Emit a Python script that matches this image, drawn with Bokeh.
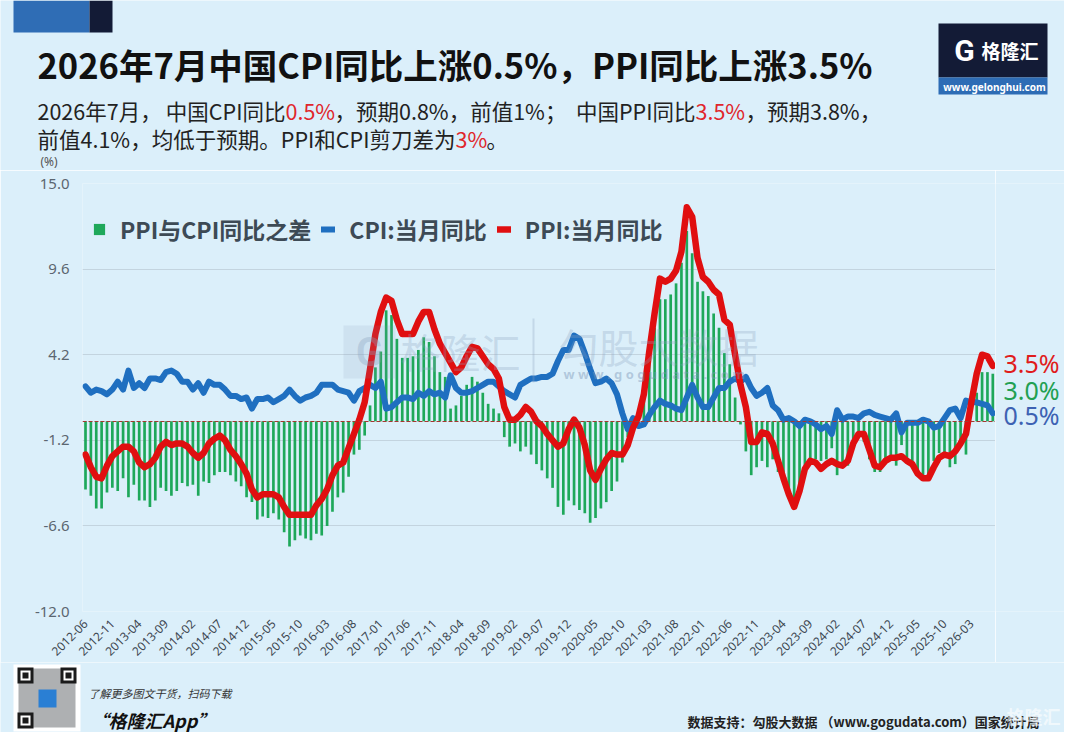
import math
from bokeh.plotting import figure
from bokeh.layouts import column, row
from bokeh.models import (Range1d, FixedTicker, PrintfTickFormatter, Label, BoxAnnotation,
                          Legend, LegendItem, Grid)
from bokeh.embed import file_html
from bokeh.resources import INLINE

# ---------------- data (monthly, 2012-06 .. 2026-07) ----------------
cpi = [
    2.2, 1.8, 2.0, 1.9, 1.7, 2.0, 2.5,
    2.0, 3.2, 2.1, 2.4, 2.1, 2.7, 2.7, 2.6, 3.1, 3.2, 3.0, 2.5,
    2.5, 2.0, 2.4, 1.8, 2.5, 2.3, 2.3, 2.0, 1.6, 1.6, 1.4, 1.5,
    0.8, 1.4, 1.4, 1.5, 1.2, 1.4, 1.6, 2.0, 1.6, 1.3, 1.5, 1.6,
    1.8, 2.3, 2.3, 2.3, 2.0, 1.9, 1.8, 1.3, 1.9, 2.1, 2.3, 2.1,
    2.5, 0.8, 0.9, 1.2, 1.5, 1.5, 1.4, 1.8, 1.6, 1.9, 1.7, 1.8,
    1.5, 2.9, 2.1, 1.8, 1.8, 1.9, 2.1, 2.3, 2.5, 2.5, 2.2, 1.9,
    1.7, 1.5, 2.3, 2.5, 2.7, 2.7, 2.8, 2.8, 3.0, 3.8, 4.5, 4.5,
    5.4, 5.2, 4.3, 3.3, 2.4, 2.5, 2.7, 2.4, 1.7, 0.5, -0.5, 0.2,
    -0.3, -0.2, 0.4, 0.9, 1.3, 1.1, 1.0, 0.8, 0.7, 1.5, 2.3, 1.5,
    0.9, 0.9, 1.5, 2.1, 2.1, 2.5, 2.7, 2.5, 2.8, 2.1, 1.6, 1.8,
    2.1, 1.0, 0.7, 0.1, 0.2, 0.0, -0.3, 0.1, 0.0, -0.2, -0.5, -0.3,
    -0.8, 0.7, 0.1, 0.3, 0.3, 0.2, 0.5, 0.6, 0.4, 0.3, 0.2, 0.1,
    0.5, -0.7, -0.1, -0.1, -0.1, 0.1, 0.0, -0.4, -0.3, 0.2, 0.7, 0.8,
    0.2, 1.3, 1.2, 1.2, 1.1, 1.0, 0.5,
]

ppi = [
    -2.1, -2.9, -3.5, -3.6, -2.8, -2.2, -1.9,
    -1.6, -1.6, -1.9, -2.6, -2.9, -2.7, -2.3, -1.6, -1.3, -1.5, -1.4, -1.4,
    -1.6, -2.0, -2.3, -2.0, -1.4, -1.1, -0.9, -1.2, -1.8, -2.2, -2.7, -3.3,
    -4.3, -4.8, -4.6, -4.6, -4.6, -4.8, -5.4, -5.9, -5.9, -5.9, -5.9, -5.9,
    -5.3, -4.9, -4.3, -3.4, -2.8, -2.6, -1.7, -0.8, 0.1, 1.2, 3.3, 5.5,
    6.9, 7.8, 7.6, 6.4, 5.5, 5.5, 5.5, 6.3, 6.9, 6.9, 5.8, 4.9,
    4.3, 3.7, 3.1, 3.4, 4.1, 4.7, 4.6, 4.1, 3.6, 3.3, 2.7, 0.9,
    0.1, 0.1, 0.4, 0.9, 0.6, 0.0, -0.3, -0.8, -1.2, -1.6, -1.4, -0.5,
    0.1, -0.4, -1.5, -3.1, -3.7, -3.0, -2.4, -2.0, -2.1, -2.1, -1.5, -0.4,
    0.3, 1.7, 4.4, 6.8, 9.0, 8.8, 9.0, 9.5, 10.7, 13.5, 12.9, 10.3,
    9.1, 8.8, 8.3, 8.0, 6.4, 6.1, 4.2, 2.3, 0.9, -1.3, -1.3, -0.7,
    -0.8, -1.4, -2.5, -3.6, -4.6, -5.4, -4.4, -3.0, -2.5, -2.6, -3.0, -2.7,
    -2.5, -2.7, -2.8, -2.5, -1.4, -0.8, -0.8, -1.8, -2.8, -2.9, -2.5, -2.3,
    -2.3, -2.2, -2.5, -2.7, -3.3, -3.6, -3.6, -2.9, -2.3, -2.1, -2.2, -1.9,
    -1.4, -0.8, 1.2, 3.0, 4.2, 4.1, 3.5,
]

spread = [
    -4.3, -4.7, -5.5, -5.5, -4.5, -4.2, -4.4,
    -3.6, -4.8, -4.0, -5.0, -5.0, -5.4, -5.0, -4.2, -4.4, -4.7, -4.4, -3.9,
    -4.1, -4.0, -4.7, -3.8, -3.9, -3.4, -3.2, -3.2, -3.4, -3.8, -4.1, -4.8,
    -5.1, -6.2, -6.0, -6.1, -5.8, -6.2, -7.0, -7.9, -7.5, -7.2, -7.4, -7.5,
    -7.1, -7.2, -6.6, -5.7, -4.8, -4.5, -3.5, -2.1, -1.8, -0.9, 1.0, 3.4,
    4.4, 7.0, 6.7, 5.2, 4.0, 4.0, 4.1, 4.5, 5.3, 5.0, 4.1, 3.1,
    2.8, 0.8, 1.0, 1.6, 2.3, 2.8, 2.5, 1.8, 1.1, 0.8, 0.5, -1.0,
    -1.6, -1.4, -1.9, -1.6, -2.1, -2.7, -3.1, -3.6, -4.2, -5.4, -5.9, -5.0,
    -5.3, -5.6, -5.8, -6.4, -6.1, -5.5, -5.1, -4.4, -3.8, -2.6, -1.0, -0.6,
    0.6, 1.9, 4.0, 5.9, 7.7, 7.7, 8.0, 8.7, 10.0, 12.0, 10.6, 8.8,
    8.2, 7.9, 6.8, 5.9, 4.3, 3.6, 1.5, -0.2, -1.9, -3.4, -2.9, -2.5,
    -2.9, -2.4, -3.2, -3.7, -4.8, -5.4, -4.1, -3.1, -2.5, -2.4, -2.5, -2.4,
    -1.7, -3.4, -2.9, -2.8, -1.7, -1.0, -1.3, -2.4, -3.2, -3.2, -2.7, -2.4,
    -2.8, -1.5, -2.4, -2.6, -3.2, -3.7, -3.6, -2.5, -2.0, -2.3, -2.9, -2.7,
    -1.6, -2.1, 0.0, 1.8, 3.1, 3.1, 3.0,
]

tick_labels = [
    "2012-06", "2012-11", "2013-04", "2013-09", "2014-02", "2014-07", "2014-12",
    "2015-05", "2015-10", "2016-03", "2016-08", "2017-01", "2017-06", "2017-11",
    "2018-04", "2018-09", "2019-02", "2019-07", "2019-12", "2020-05", "2020-10",
    "2021-03", "2021-08", "2022-01", "2022-06", "2022-11", "2023-04", "2023-09",
    "2024-02", "2024-07", "2024-12", "2025-05", "2025-10", "2026-03",
]
tick_step = 5
y_ticks = [-12.0, -6.6, -1.2, 4.2, 9.6, 15.0]

series_names = ["PPI与CPI同比之差", "CPI:当月同比", "PPI:当月同比"]
end_labels = ["3.5%", "3.0%", "0.5%"]

# ---------------- styling ----------------
BG = "#dbeffa"
GREEN = "#1ea85a"
BLUE = "#1f6fc0"
RED = "#e00f10"
CJK = "Noto Sans CJK SC"

idx = list(range(len(cpi)))
ticks = [i * tick_step for i in range(len(tick_labels))]

W = 1064
HEAD_H, MAIN_H, FOOT_H = 170, 492, 70
MAIN_W = 995
FL, FT, FB = 82, 183, 611      # main frame edges in page pixels


def blank_fig(w, h):
    f = figure(width=w, height=h, x_range=Range1d(0, w), y_range=Range1d(0, h),
               x_axis_type=None, y_axis_type=None, title=None,
               min_border=0, min_border_left=0, min_border_right=0,
               min_border_top=0, min_border_bottom=0,
               toolbar_location=None, output_backend="svg")
    f.background_fill_color = BG
    f.border_fill_color = BG
    f.outline_line_color = None
    f.grid.visible = False
    return f


class Canvas:
    def __init__(self, fig, ox, oy):
        self.f, self.ox, self.oy = fig, ox, oy

    def text(self, text, X, Y, size, color, style="normal", font=CJK, align="left",
             baseline="middle", alpha=1.0):
        self.f.add_layout(Label(x=X - self.ox, y=self.oy - Y, x_units="screen", y_units="screen",
                                text=text, text_font=font, text_font_size=f"{size}px",
                                text_color=color, text_font_style=style, text_align=align,
                                text_baseline=baseline, text_alpha=alpha))

    def box(self, X1, Y1, X2, Y2, color, alpha=1.0):
        self.f.add_layout(BoxAnnotation(left=X1 - self.ox, right=X2 - self.ox,
                                        top=self.oy - Y1, bottom=self.oy - Y2,
                                        left_units="screen", right_units="screen",
                                        top_units="screen", bottom_units="screen",
                                        fill_color=color, fill_alpha=alpha, line_color=None))


# ---------------- main chart ----------------
p = figure(width=MAIN_W, height=MAIN_H, x_range=Range1d(-0.56, len(cpi) - 0.5),
           y_range=Range1d(y_ticks[0], y_ticks[-1]), title=None,
           min_border_left=FL, min_border_right=0,
           min_border_top=FT - HEAD_H, min_border_bottom=HEAD_H + MAIN_H - FB,
           toolbar_location=None, output_backend="svg")
p.background_fill_color = BG
p.border_fill_color = BG
p.outline_line_color = None

p.xgrid.grid_line_color = None
p.ygrid.grid_line_color = "#c3d4df"
p.ygrid.grid_line_width = 1

p.yaxis.ticker = FixedTicker(ticks=y_ticks)
p.yaxis.formatter = PrintfTickFormatter(format="%.1f")
p.yaxis.axis_line_color = None
p.yaxis.major_tick_line_color = None
p.yaxis.minor_tick_line_color = None
p.yaxis.major_label_text_font = "Noto Sans"
p.yaxis.major_label_text_font_size = "15px"
p.yaxis.major_label_text_color = "#5b6670"
p.yaxis.major_label_standoff = 7

p.xaxis.ticker = FixedTicker(ticks=ticks)
p.xaxis.major_label_overrides = {t: lab for t, lab in zip(ticks, tick_labels)}
p.xaxis.major_label_orientation = math.pi / 4
p.xaxis.axis_line_color = None
p.xaxis.major_tick_line_color = None
p.xaxis.minor_tick_line_color = None
p.xaxis.major_label_text_font = "Noto Sans"
p.xaxis.major_label_text_font_size = "12px"
p.xaxis.major_label_text_color = "#3b4650"
p.xaxis.major_label_standoff = 4

zero_line = Grid(dimension=1, ticker=FixedTicker(ticks=[0]), grid_line_color="#a5382f",
                 grid_line_dash="4 2", grid_line_width=1.2, level="glyph")
p.add_layout(zero_line)

bars = p.vbar(x=idx, top=spread, width=0.5, fill_color=GREEN, line_color=None)
cpi_line = p.line(idx, cpi, line_color=BLUE, line_width=6, line_join="round", line_cap="round")
ppi_line = p.line(idx, ppi, line_color=RED, line_width=6.5, line_join="round", line_cap="round")

legend = Legend(items=[LegendItem(label=series_names[0], renderers=[bars]),
                       LegendItem(label=series_names[1], renderers=[cpi_line]),
                       LegendItem(label=series_names[2], renderers=[ppi_line])],
                location=(10, FB - 246), orientation="horizontal",
                background_fill_alpha=0, border_line_color=None,
                label_text_font=CJK, label_text_font_style="bold",
                label_text_font_size="23px", label_text_color="#3d4a55",
                glyph_width=14, glyph_height=14, label_standoff=14, spacing=10,
                padding=0, margin=0)
p.add_layout(legend)

m = Canvas(p, FL, FB)
# watermark
m.box(343, 325, 395, 378, "#7d98b8", 0.14)
m.text("G", 369, 352, 40, "#8aa3c0", "bold", "Roboto", "center", alpha=0.35)
m.text("格隆汇", 400, 350, 40, "#8aa3c0", alpha=0.3)
m.box(532, 318, 534, 382, "#8aa3c0", 0.3)
m.text("勾股大数据", 558, 345, 40, "#8aa3c0", alpha=0.3)
m.text("w w w . g o g u d a t a . c o m", 563, 373, 13, "#7d98b8", "bold", "Noto Sans", alpha=0.45)

# ---------------- end-value labels (right strip, frame aligned with main) ----------------
side = blank_fig(W - MAIN_W, MAIN_H)
s = Canvas(side, MAIN_W, FB)
s.text(end_labels[0], 1003, 362, 25, "#e01c1c", font="Noto Sans")
s.text(end_labels[1], 1003, 389, 25, "#22a052", font="Noto Sans")
s.text(end_labels[2], 1003, 414, 25, "#3d62b3", font="Noto Sans")

# ---------------- header ----------------
head = blank_fig(W, HEAD_H)
h = Canvas(head, 0, HEAD_H)
h.box(13, 0, 89, 32, "#2f6db5")
h.box(89, 0, 112, 32, "#131b36")
h.box(938, 23, 1047, 77, "#131b36")
h.box(938, 77, 1047, 94, "#2d6cb5")
h.text("G", 964, 50, 30, "#ffffff", "bold", "Roboto", "center")
h.text("格隆汇", 981, 50, 19, "#ffffff", "bold")
h.text("www.gelonghui.com", 994, 86, 10, "#ffffff", "bold", "Noto Sans", "center")

h.text("2026年7月中国CPI同比上涨0.5%，PPI同比上涨3.5%", 37, 63, 34.5, "#111111", "bold")
SUB = 21.5
DARK = "#222222"
SRED = "#e0262b"
# (text, x, colour, alignment) — right-aligned pieces end where a red figure begins
line1 = [("2026年7月，", 37, DARK, "left"), ("中国CPI同比", 285, DARK, "right"),
         ("0.5%", 285, SRED, "left"),
         ("，预期0.8%，前值1%；", 334, DARK, "left"), ("中国PPI同比", 695, DARK, "right"),
         ("3.5%", 695, SRED, "left"), ("，预期3.8%，", 745, DARK, "left")]
line2 = [("前值4.1%，", 37, DARK, "left"), ("均低于预期。PPI和CPI剪刀差为", 455, DARK, "right"),
         ("3%", 455, SRED, "left"), ("。", 486, DARK, "left")]
for t, x, c, a in line1:
    h.text(t, x, 110, SUB, c, align=a)
for t, x, c, a in line2:
    h.text(t, x, 138, SUB, c, align=a)
h.text("(%)", 40, 161, 12, "#555555", font="Noto Sans")

# ---------------- footer ----------------
foot = blank_fig(W, FOOT_H)
ft = Canvas(foot, 0, HEAD_H + MAIN_H + FOOT_H)
ft.box(13, 664, 80, 731, "#ffffff")
ft.box(18, 668, 75, 727, "#6b6f73", 0.55)
for (a, b) in [(17, 667), (60, 667), (17, 712)]:
    ft.box(a, b, a + 16, b + 16, "#1b1b1b")
    ft.box(a + 3, b + 3, a + 13, b + 13, "#ffffff")
    ft.box(a + 5, b + 5, a + 11, b + 11, "#1b1b1b")
ft.box(38, 689, 56, 707, "#2a7fd4")
ft.text("了解更多图文干货，扫码下载", 88, 692, 11, "#333333", "italic")
ft.text("“格隆汇App”", 90, 719, 18, "#111111", "bold italic")
ft.text("数据支持：勾股大数据 （www.gogudata.com）国家统计局", 687, 721, 13, "#222222", "bold")
ft.text("格隆汇", 1060, 715, 18, "#ffffff", "bold", align="right", alpha=0.6)

layout = column(head, row(p, side), foot)
open("out.html", "w").write(file_html(layout, INLINE))
